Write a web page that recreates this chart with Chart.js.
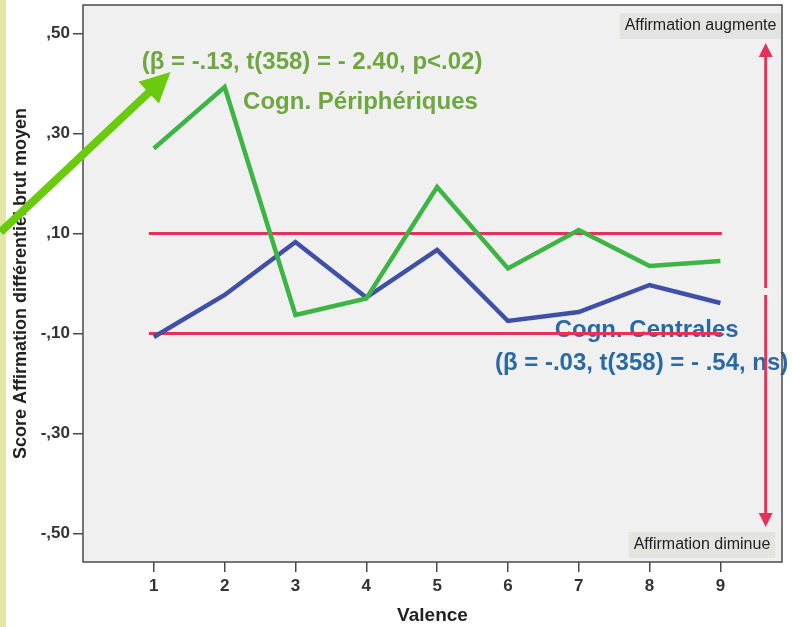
<!DOCTYPE html>
<html>
<head>
<meta charset="utf-8">
<script src="https://cdn.jsdelivr.net/npm/chart.js@4/dist/chart.umd.min.js"></script>
<style>
  body { margin: 0; background: #fff; }
</style>
</head>
<body>
<canvas id="chart" width="793" height="627"></canvas>
<script>
// valence 1..9, mean differential affirmation score
const valence = [1, 2, 3, 4, 5, 6, 7, 8, 9]
const peripheriques = [0.27, 0.393, -0.063, -0.03, 0.193, 0.03, 0.107, 0.035, 0.045]
const centrales = [-0.107, -0.023, 0.083, -0.028, 0.067, -0.075, -0.057, -0.003, -0.039]
const yTicks = [-0.5, -0.3, -0.1, 0.1, 0.3, 0.5]
const yTickLabels = ['-,50', '-,30', '-,10', ',10', ',30', ',50']
const refLevels = [0.1, -0.1]
const refFrom = 0.93
const refTo = 9.02

const GREEN = '#3db545'
const BLUE = '#3f50a6'
const RED = '#e6315b'
const GREEN_TXT = '#6ea63f'
const BLUE_TXT = '#2a6aa4'
const LIME = '#6acb0e'
const FONT = '"Liberation Sans", Arial, sans-serif'

// annotations, in data units
const notes = [
    {text: '(β = -.13, t(358) = - 2.40, p<.02)', x: 3.234, y: 0.443, color: GREEN_TXT},
    {text: 'Cogn. Périphériques', x: 3.918, y: 0.363, color: GREEN_TXT},
    {text: 'Cogn. Centrales', x: 7.959, y: -0.093, color: BLUE_TXT},
    {text: '(β = -.03, t(358) = - .54, ns)', x: 7.888, y: -0.159, color: BLUE_TXT}
]
const boxes = [
    {text: 'Affirmation augmente', x: 8.72, y: 0.515},
    {text: 'Affirmation diminue', x: 8.74, y: -0.523}
]
const vArrow = {x: 9.64, top: 0.481, bottom: -0.487, gapTop: -0.009, gapBottom: -0.023}
const limeArrow = {x0: -1.165, y0: 0.103, x1: 1.236, y1: 0.423}

function arrowHead(ctx, x0, y0, x1, y1, len, half){
    const a = Math.atan2(y1 - y0, x1 - x0)
    ctx.beginPath()
    ctx.moveTo(x1, y1)
    ctx.lineTo(x1 - len*Math.cos(a) + half*Math.sin(a), y1 - len*Math.sin(a) - half*Math.cos(a))
    ctx.lineTo(x1 - len*Math.cos(a) - half*Math.sin(a), y1 - len*Math.sin(a) + half*Math.cos(a))
    ctx.closePath()
    ctx.fill()
}

const decor = {
    id: 'decor',
    beforeDraw(chart){
        const ctx = chart.ctx
        const a = chart.chartArea
        ctx.save()
        ctx.fillStyle = '#ffffff'
        ctx.fillRect(0, 0, chart.width, chart.height)
        ctx.fillStyle = '#e4e6a8'
        ctx.fillRect(0, 0, 6, chart.height)
        ctx.fillStyle = '#f0f0f0'
        ctx.fillRect(a.left, a.top, a.right - a.left, a.bottom - a.top)
        ctx.restore()
    },
    beforeDatasetsDraw(chart){
        const ctx = chart.ctx
        const xs = chart.scales.x, ys = chart.scales.y
        ctx.save()
        ctx.textAlign = 'center'
        ctx.textBaseline = 'middle'
        ctx.font = '16px ' + FONT
        boxes.forEach(b => {
            const px = xs.getPixelForValue(b.x), py = ys.getPixelForValue(b.y)
            const w = ctx.measureText(b.text).width + 10
            ctx.fillStyle = '#e3e3df'
            ctx.fillRect(px - w/2, py - 13, w, 26)
            ctx.fillStyle = '#222'
            ctx.fillText(b.text, px, py)
        })
        ctx.font = 'bold 24px ' + FONT
        notes.forEach(n => {
            ctx.fillStyle = n.color
            ctx.fillText(n.text, xs.getPixelForValue(n.x), ys.getPixelForValue(n.y))
        })
        ctx.restore()
    },
    afterDraw(chart){
        const ctx = chart.ctx
        const a = chart.chartArea
        const xs = chart.scales.x, ys = chart.scales.y
        ctx.save()
        ctx.strokeStyle = '#4a4a4a'
        ctx.lineWidth = 1.5
        ctx.strokeRect(a.left, a.top, a.right - a.left, a.bottom - a.top)

        // red double arrow
        const vx = xs.getPixelForValue(vArrow.x)
        const t = ys.getPixelForValue(vArrow.top), b = ys.getPixelForValue(vArrow.bottom)
        ctx.strokeStyle = RED
        ctx.fillStyle = RED
        ctx.lineWidth = 3
        ctx.beginPath()
        ctx.moveTo(vx, t + 10)
        ctx.lineTo(vx, ys.getPixelForValue(vArrow.gapTop))
        ctx.moveTo(vx, ys.getPixelForValue(vArrow.gapBottom))
        ctx.lineTo(vx, b - 10)
        ctx.stroke()
        arrowHead(ctx, vx, t + 20, vx, t, 14, 7)
        arrowHead(ctx, vx, b - 20, vx, b, 14, 7)

        // lime pointer arrow
        const x0 = xs.getPixelForValue(limeArrow.x0), y0 = ys.getPixelForValue(limeArrow.y0)
        const x1 = xs.getPixelForValue(limeArrow.x1), y1 = ys.getPixelForValue(limeArrow.y1)
        const ang = Math.atan2(y1 - y0, x1 - x0)
        ctx.strokeStyle = LIME
        ctx.fillStyle = LIME
        ctx.lineWidth = 8
        ctx.beginPath()
        ctx.moveTo(x0, y0)
        ctx.lineTo(x1 - 22*Math.cos(ang), y1 - 22*Math.sin(ang))
        ctx.stroke()
        arrowHead(ctx, x0, y0, x1, y1, 30, 15)
        ctx.restore()
    }
}

const tickFont = {family: FONT, size: 17, weight: 'bold'}

function noEdgePadding(s){
    s.paddingTop = 0
    s.paddingBottom = 0
    s.paddingLeft = 0
    s.paddingRight = 0
}

const myChart = new Chart(document.getElementById('chart').getContext('2d'), {
    type: 'line',
    data: {
        datasets: [
            {label: 'Cogn. Périphériques', data: valence.map((v, i) => ({x: v, y: peripheriques[i]})),
             borderColor: GREEN, borderWidth: 4.5, pointRadius: 0, tension: 0},
            {label: 'Cogn. Centrales', data: valence.map((v, i) => ({x: v, y: centrales[i]})),
             borderColor: BLUE, borderWidth: 4.5, pointRadius: 0, tension: 0},
            ...refLevels.map(l => ({label: 'ref ' + l, data: [{x: refFrom, y: l}, {x: refTo, y: l}],
             borderColor: RED, borderWidth: 3, pointRadius: 0}))
        ]
    },
    options: {
        responsive: false,
        animation: false,
        devicePixelRatio: 1,
        layout: {padding: {left: 6, right: 11, top: 5, bottom: 0}},
        plugins: {legend: {display: false}, tooltip: {enabled: false}},
        scales: {
            x: {
                type: 'linear', min: 0, max: 9.87,
                afterBuildTicks: s => { s.ticks = valence.map(v => ({value: v})) },
                afterFit: s => { s.height = 65; noEdgePadding(s) },
                grid: {drawOnChartArea: false, tickLength: 10, color: '#4a4a4a', lineWidth: 1.5},
                border: {display: false},
                ticks: {color: '#333', font: tickFont, padding: 4, maxRotation: 0},
                title: {display: true, text: 'Valence', color: '#222',
                        font: {family: FONT, size: 19, weight: 'bold'}, padding: {top: 0, bottom: 0}}
            },
            y: {
                type: 'linear', min: -0.557, max: 0.557,
                afterBuildTicks: s => { s.ticks = yTicks.map(v => ({value: v})) },
                afterFit: s => { s.width = 77; noEdgePadding(s) },
                grid: {drawOnChartArea: false, tickLength: 10, color: '#4a4a4a', lineWidth: 1.5},
                border: {display: false},
                ticks: {color: '#333', font: tickFont, padding: 3,
                        callback: v => yTickLabels[yTicks.indexOf(v)]},
                title: {display: true, text: 'Score Affirmation différentiel brut moyen', color: '#222',
                        font: {family: FONT, size: 18, weight: 'bold'}, padding: {top: 4, bottom: 0}}
            }
        }
    },
    plugins: [decor]
})
</script>
</body>
</html>
